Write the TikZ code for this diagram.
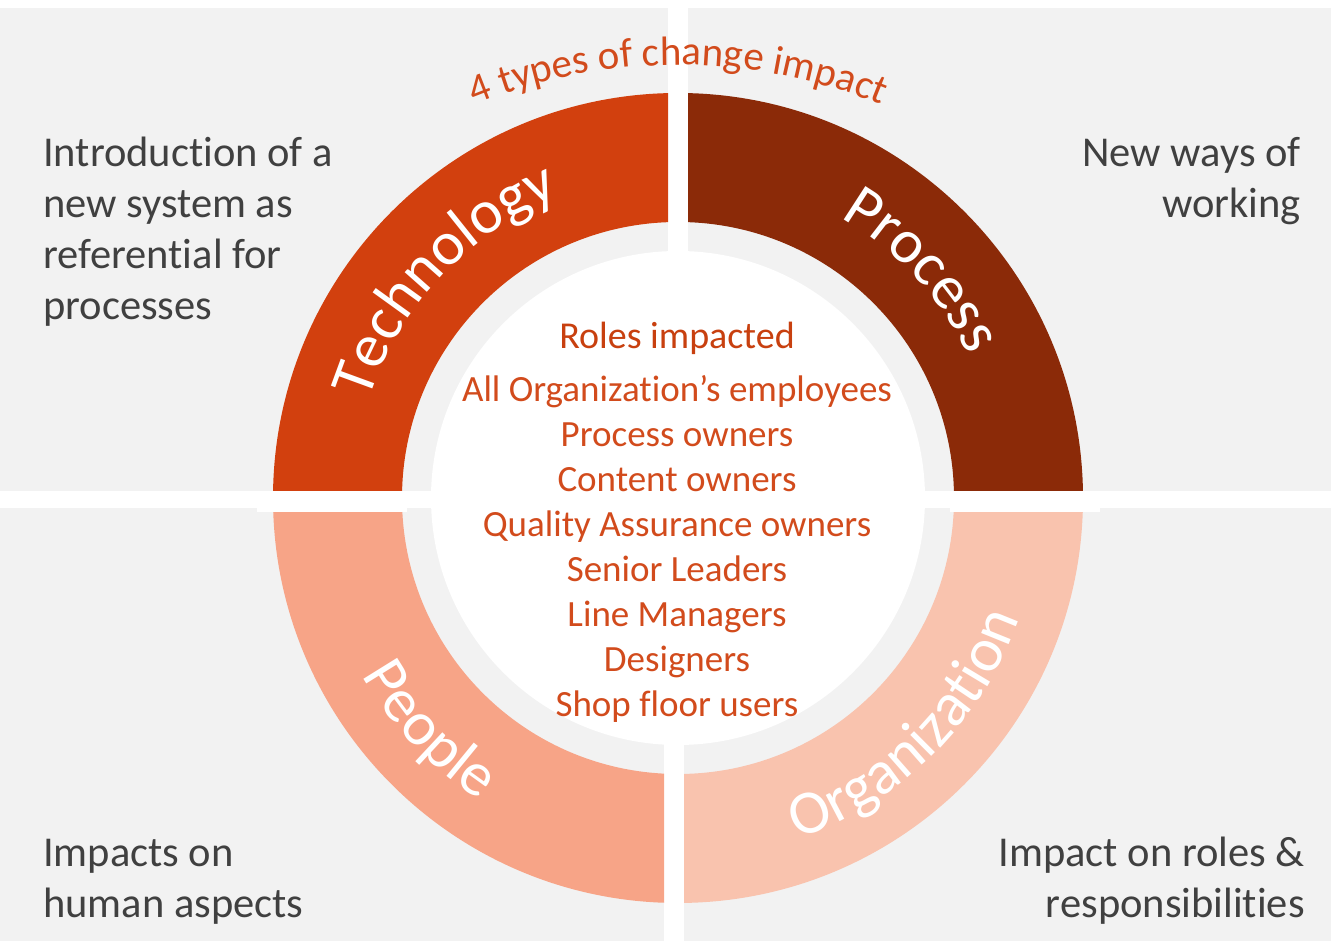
\documentclass[tikz,border=0pt]{standalone}
\usepackage{fontspec}
\setmainfont{Carlito}[Ligatures=NoCommon]
\usepackage{xcolor}
\usepackage{tikz}
\usetikzlibrary{decorations.text}
\definecolor{panelgray}{HTML}{F2F2F2}
\definecolor{techred}{HTML}{D2400E}
\definecolor{procbrown}{HTML}{8B2A08}
\definecolor{peoplepink}{HTML}{F7A487}
\definecolor{orgpink}{HTML}{F9C3AE}
\definecolor{roletext}{HTML}{D24B1C}
\definecolor{headtext}{HTML}{C8400F}
\definecolor{sidetext}{HTML}{404040}
\newcommand\ringfont{\fontsize{62}{62}\selectfont\color{white}}
\newcommand\archfont{\fontsize{41}{41}\selectfont\color{roletext}}
\tikzset{
panel/.style={fill=panelgray},
ring/.style={even odd rule},
sidenote/.style={
  text=sidetext,
  font=\fontsize{42.5}{51}\selectfont,
  inner sep=0pt
},
role/.style={
  text=roletext,
  font=\fontsize{37}{45}\selectfont,
  inner sep=0pt,
  anchor=base
},
%ringlabel/.style={decorate,decoration={text along path,text align=center}},
}

\begin{document}
\begin{tikzpicture}[x=1pt,y=1pt]
\useasboundingbox (0,0) rectangle (1331,941);
\coordinate (c) at (678,443);
% the four panels
\fill[panel] (0,450) rectangle (668,933);
\fill[panel] (688,450) rectangle (1331,933);
\fill[panel] (0,0) rectangle (664,433);
\fill[panel] (684,0) rectangle (1331,433);
% the ring segments
\begin{scope}
  \clip (0,450) rectangle (668,941);
  \fill[techred,ring] (c) circle (405) (c) circle (276);
\end{scope}
\begin{scope}
  \clip (688,450) rectangle (1331,941);
  \fill[procbrown,ring] (c) circle (405) (c) circle (276);
\end{scope}
\begin{scope}
  \clip (0,0) rectangle (664,429);
  \fill[peoplepink,ring] (c) circle (405) (c) circle (276);
\end{scope}
\begin{scope}
  \clip (684,0) rectangle (1331,429);
  \fill[orgpink,ring] (c) circle (405) (c) circle (276);
\end{scope}
\fill[white] (257,429) rectangle (407,450);
\fill[white] (950,429) rectangle (1100,450);
% the middle disc
\fill[white] (c) circle (247);
% the ring labels
\path[decorate,decoration={text along path,text align=center,
  text={|\ringfont|Technology}}] (c) ++(182:324) arc (182:92:324);
\path[decorate,decoration={text along path,text align=center,
  text={|\ringfont|Process}}] (c) ++(88:324) arc (88:-2:324);
\path[decorate,decoration={text along path,text align=center,
  text={|\ringfont|People}}] (c) ++(178:362) arc (178:268:362);
\path[decorate,decoration={text along path,text align=center,
  text={|\ringfont|Organization}}] (c) ++(270:362) arc (270:360:362);
% the title over the ring
\coordinate (arch) at (678,341);
\path[decorate,decoration={text along path,text align=center,
  text={|\archfont|4 types of change impact}}] (arch) ++(125:535) arc (125:55:535);
% the notes in the corners
\node[sidenote,anchor=base west,align=left] (tech-note) at (43,621)
  {Introduction of a\\new system as\\referential for\\processes};
\node[sidenote,anchor=base east,align=right] (proc-note) at (1301,723)
  {New ways of\\working};
\node[sidenote,anchor=base west,align=left] (people-note) at (43,23)
  {Impacts on\\human aspects};
\node[sidenote,anchor=base east,align=right] (org-note) at (1305,23)
  {Impact on roles \&\\responsibilities};
% the roles list
\node[role,text=headtext,font=\fontsize{38}{45}\selectfont] (heading) at (677,592) {Roles impacted};
\foreach \role [count=\i] in {All Organization’s employees,Process owners,Content owners,
  Quality Assurance owners,Senior Leaders,Line Managers,Designers,Shop floor users}
{
  \node[role] (role-\i) at (677,{539-(\i-1)*44.9}) {\role};
}
\end{tikzpicture}
\end{document}
